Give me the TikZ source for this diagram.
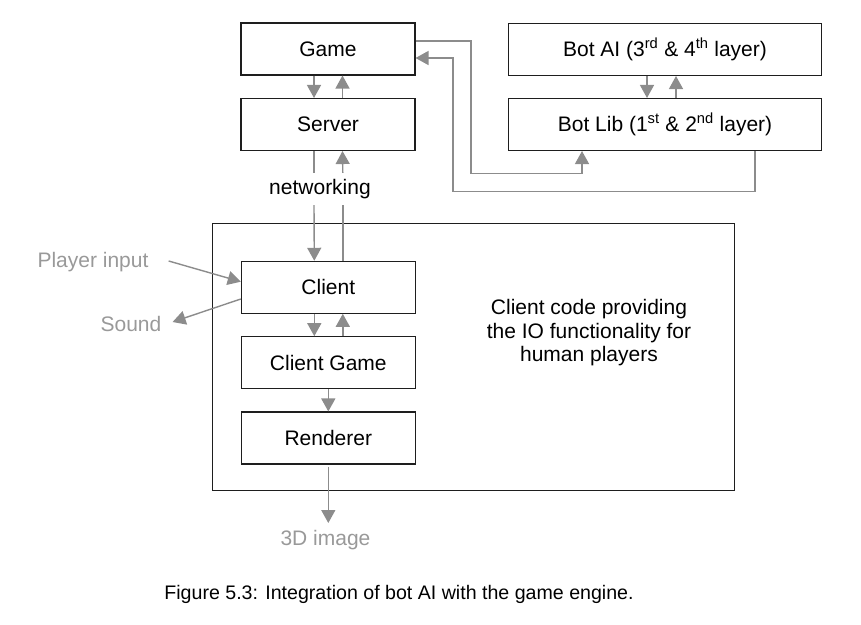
\documentclass[tikz,border=0pt]{standalone}
\usepackage{fontspec}
\setmainfont{Liberation Sans}
\usetikzlibrary{arrows.meta,calc}
\definecolor{cgray}{HTML}{8C8C8C}
\definecolor{tgray}{HTML}{999999}
\definecolor{bord}{HTML}{1E1E1E}
\begin{document}
\begin{tikzpicture}[x=1pt,y=-1pt,
 box/.style={draw=bord,line width=1.05pt,minimum height=52pt,inner sep=0pt,font=\fontsize{21}{25}\selectfont},
 lbox/.style={box,minimum width=174pt},
 conn/.style={draw=cgray,line width=1.4pt},
 arr/.style={conn,-{Triangle[length=13pt,width=14pt]}},
 glabel/.style={text=tgray,font=\fontsize{21}{25}\selectfont,inner sep=0pt},
 btext/.style={font=\fontsize{21}{23.5}\selectfont,inner sep=0pt}
]
\useasboundingbox (0,0) rectangle (861,624);
% outer client box
\node[draw=bord,line width=1.05pt,minimum width=522pt,minimum height=266.7pt,inner sep=0pt] (outer) at (473.3,356.7) {};
\node[btext,align=center] (desc) at (589,333) {Client code providing\\the IO functionality for\\human players};
% boxes
\node[lbox] (game) at (328,49) {Game};
\node[lbox] (server) at (328,124.5) {Server};
\node[box,minimum width=313pt] (botai) at (665,49.5) {Bot AI (3\textsuperscript{rd} \& 4\textsuperscript{th} layer)};
\node[box,minimum width=313pt] (botlib) at (665,124.5) {Bot Lib (1\textsuperscript{st} \& 2\textsuperscript{nd} layer)};
\node[lbox] (client) at (328.3,287.3) {Client};
\node[lbox] (cgame) at (328.3,362.7) {Client Game};
\node[lbox] (renderer) at (328.3,438) {Renderer};
% labels
\node[btext,minimum height=32pt] (net) at (320,189) {networking};
\node[glabel] (pin) at (93,262) {Player input};
\node[glabel] (sound) at (131,324) {Sound};
\node[glabel] (img) at (325.5,540) {3D image};
\node[font=\fontsize{19.6}{23}\selectfont,inner sep=0pt] (cap) at (399,594) {Figure 5.3: Integration of bot AI with the game engine.};
% game <-> server
\draw[arr] ([xshift=-14pt]game.south) -- ([xshift=-14pt]server.north);
\draw[arr] ([xshift=14.5pt]server.north) -- ([xshift=14.5pt]game.south);
% bot ai <-> bot lib
\draw[arr] ([xshift=-18pt]botai.south) -- ([xshift=-18pt]botlib.north);
\draw[arr] ([xshift=11pt]botlib.north) -- ([xshift=11pt]botai.south);
% game <-> bot lib
\coordinate (c1) at (471,173.3);
\coordinate (c2) at (453,191.7);
\draw[arr] ([yshift=8pt]game.east) -| (c1) -| ([xshift=-83pt]botlib.south);
\draw[arr] ([xshift=90pt]botlib.south) |- (c2) |- ([yshift=-9pt]game.east);
% server <-> client via networking
\draw[conn] ([xshift=-14pt]server.south) -- ([xshift=-14pt]server.south |- net.north);
\draw[arr] ([xshift=-14pt]server.south |- net.south) -- ([xshift=-14pt]client.north);
\draw[conn] ([xshift=14.5pt]client.north) -- ([xshift=14.5pt]client.north |- net.south);
\draw[arr] ([xshift=14.5pt]client.north |- net.north) -- ([xshift=14.5pt]server.south);
% client <-> client game
\draw[arr] ([xshift=-14pt]client.south) -- ([xshift=-14pt]cgame.north);
\draw[arr] ([xshift=14.5pt]cgame.north) -- ([xshift=14.5pt]client.south);
% client game -> renderer
\draw[arr] (cgame.south) -- (renderer.north);
% renderer -> 3D image
\draw[arr,shorten <=2pt] (renderer.south) -- ([yshift=7pt]renderer.south |- img.north);
% player input, sound
\draw[arr] ([xshift=20pt,yshift=1pt]pin.east) -- ([yshift=5.6pt]client.west);
\draw[arr] ([yshift=-11.7pt]client.west) -- ([xshift=11pt,yshift=2pt]sound.east);
\end{tikzpicture}
\end{document}
